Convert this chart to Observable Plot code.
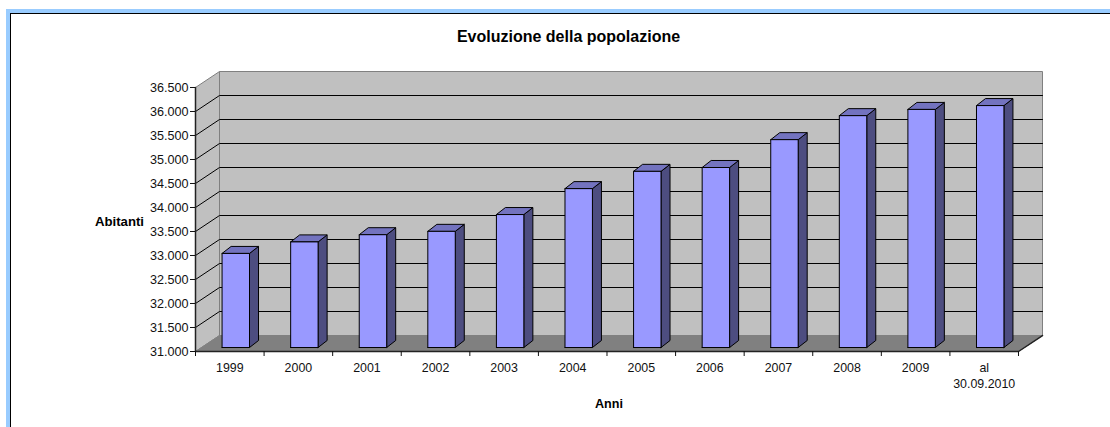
<!DOCTYPE html>
<html>
<head>
<meta charset="utf-8">
<script src="https://cdn.jsdelivr.net/npm/d3@7"></script>
<script src="https://cdn.jsdelivr.net/npm/@observablehq/plot@0.6"></script>
<style>
  html, body { margin: 0; padding: 0; background: #fff; overflow: hidden; }
  #frame { position: absolute; left: 6px; top: 9px; right: 0; bottom: 0; border-left: 4px solid #99ccff; border-top: 4px solid #99ccff; }
  #inner { position: absolute; left: 0; top: 0; right: 0; bottom: 0; border-left: 1.5px solid #000; border-top: 1.5px solid #000; }
  #chart { position: absolute; left: 0; top: 0; width: 1110px; height: 427px; }
  #chart svg { display: block; }
</style>
</head>
<body>
<div id="frame"><div id="inner"></div></div>
<div id="chart"></div>
<script>
const categories = ["1999","2000","2001","2002","2003","2004","2005","2006","2007","2008","2009","al\n30.09.2010"];
const abitanti = [32960,33200,33350,33420,33770,34310,34670,34750,35330,35830,35960,36040];
const yTicks = [31000,31500,32000,32500,33000,33500,34000,34500,35000,35500,36000,36500];
const titleText = "Evoluzione della popolazione";
const yLabel = "Abitanti";
const xLabel = "Anni";

// pseudo-3D depth, expressed in data units
const depthX = 0.35, depthY = 333;
const yMin = yTicks[0], yMax = yTicks[yTicks.length - 1];
const n = categories.length;
const barW = 0.40, frontX = 0.0875, frontY = 83, backX = 0.219, backY = 229;

const poly = (id, pts) => pts.concat([pts[0]]).map(([x, y]) => ({id, x, y}));
const bars = abitanti.map((v, i) => {
  const x0 = i + 0.5 - barW / 2 + frontX, x1 = x0 + barW;
  const ddx = backX - frontX, ddy = backY - frontY;
  const base = yMin + frontY, top = v + frontY;
  return {
    front: poly(i, [[x0, base], [x1, base], [x1, top], [x0, top]]),
    side: poly(i, [[x1, base], [x1 + ddx, base + ddy], [x1 + ddx, top + ddy], [x1, top]]),
    cap: poly(i, [[x0, top], [x1, top], [x1 + ddx, top + ddy], [x0 + ddx, top + ddy]])
  };
});

const sideWall = poly("s", [[0, yMin], [depthX, yMin + depthY], [depthX, yMax + depthY], [0, yMax]]);
const backWall = poly("b", [[depthX, yMin + depthY], [n + depthX, yMin + depthY], [n + depthX, yMax + depthY], [depthX, yMax + depthY]]);
const floor = poly("f", [[0, yMin], [n, yMin], [n + depthX, yMin + depthY], [depthX, yMin + depthY]]);
const grid = yTicks.slice(1, -1).flatMap(v => [
  {id: v, x: 0, y: v}, {id: v, x: depthX, y: v + depthY}, {id: v, x: n + depthX, y: v + depthY}
]);
const face = (key, fill) => Plot.line(bars.flatMap(b => b[key]), {x: "x", y: "y", z: "id", fill, stroke: "#000", strokeWidth: 1, strokeLinejoin: "miter"});
const gray = (data, fill) => Plot.line(data, {x: "x", y: "y", z: "id", fill, stroke: "#808080", strokeWidth: 1, strokeLinejoin: "miter"});

const plot = Plot.plot({
  width: 1110, height: 427,
  marginTop: 71, marginBottom: 76, marginLeft: 195, marginRight: 68,
  style: {background: "transparent", fontFamily: "'Liberation Sans', Arial, sans-serif", fontSize: "12.6px", color: "#111"},
  x: {type: "linear", domain: [0, n + depthX]},
  y: {type: "linear", domain: [yMin, yMax + depthY]},
  marks: [
    gray(sideWall, "#c0c0c0"),
    gray(backWall, "#c0c0c0"),
    Plot.line(grid, {x: "x", y: "y", z: "id", stroke: "#000", strokeWidth: 1}),
    gray(floor, "#808080"),
    face("side", "#4d4d80"),
    face("cap", "#7373bf"),
    face("front", "#9999ff"),
    Plot.line([{x: 0, y: yMax}, {x: 0, y: yMin}, {x: n, y: yMin}, {x: n + depthX, y: yMin + depthY}], {x: "x", y: "y", stroke: "#222", strokeWidth: 1.5}),
    Plot.axisY({ticks: yTicks, tickFormat: d => d3.format(",")(d).replace(",", "."), tickSize: 5, tickPadding: 2, label: null, fontSize: 12.6}),
    Plot.axisX({ticks: d3.range(n + 1), tickFormat: () => "", tickSize: 5, label: null}),
    Plot.text(categories, {x: (d, i) => i + 0.5, frameAnchor: "bottom", dy: 9, lineAnchor: "top", text: d => d, fontSize: 12.4, lineHeight: 1.32}),
    Plot.text([titleText], {frameAnchor: "top-left", dx: 373, dy: -41, text: d => d, textAnchor: "middle", fontWeight: "bold", fontSize: 16, fill: "#000"}),
    Plot.text([yLabel], {frameAnchor: "left", dx: -76, dy: 10, text: d => d, textAnchor: "middle", fontWeight: "bold", fontSize: 13.2, fill: "#000"}),
    Plot.text([xLabel], {frameAnchor: "bottom", dx: -10, dy: 56, text: d => d, fontWeight: "bold", fontSize: 12.6, fill: "#000"})
  ]
});
document.getElementById("chart").append(plot);
</script>
</body>
</html>
